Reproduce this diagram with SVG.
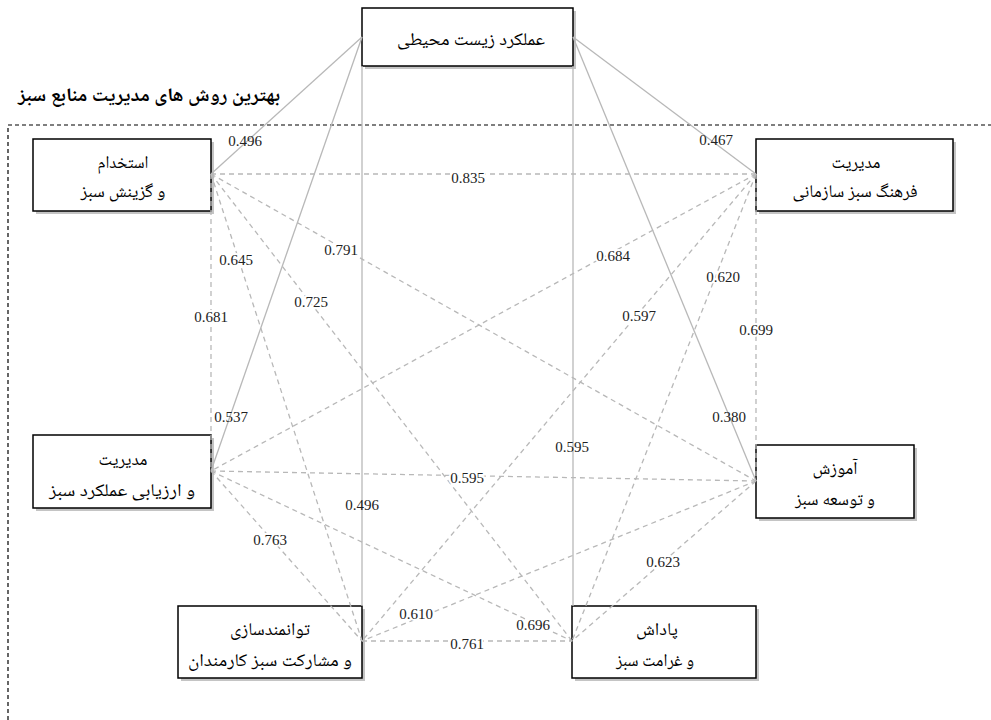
<svg xmlns="http://www.w3.org/2000/svg" width="991" height="720" viewBox="0 0 991 720">
<style>
.box{fill:#fff;stroke:#000;stroke-width:1.5}
.sh{fill:#c4c4c4}
.fa{font-family:"Noto Naskh Arabic","Liberation Serif","DejaVu Sans",serif;font-size:18px;fill:#000;text-anchor:middle}
.num{font-family:"Liberation Serif","Times New Roman",serif;font-size:15px;fill:#222;text-anchor:middle}
.halo{paint-order:stroke;stroke:#fff;stroke-width:4px;stroke-linejoin:round}
.sol{stroke:#b8b8b8;stroke-width:1.3;fill:none}
.das{stroke:#b8b8b8;stroke-width:1.3;fill:none;stroke-dasharray:5 4}
</style>
<rect width="991" height="720" fill="#fff"/>
<path d="M8,720 V125 H991" fill="none" stroke="#000" stroke-width="1.2" stroke-dasharray="4 3"/>
<text x="149" y="101" class="fa" style="font-weight:bold;font-size:19px" direction="rtl" textLength="262" lengthAdjust="spacingAndGlyphs">بهترین روش های مدیریت منابع سبز</text>

<g id="n-top"><rect x="365" y="11" width="211" height="58" class="sh"/><rect x="362" y="8" width="211" height="58" class="box"/><text x="471" y="45" class="fa" direction="rtl" textLength="148" lengthAdjust="spacingAndGlyphs">عملکرد زیست محیطی</text></g>
<g id="n-recruit"><rect x="36" y="142" width="178" height="72" class="sh"/><rect x="33" y="139" width="178" height="72" class="box"/><text x="123" y="168" class="fa" direction="rtl" textLength="51" lengthAdjust="spacingAndGlyphs">استخدام</text><text x="123" y="197" class="fa" direction="rtl" textLength="85" lengthAdjust="spacingAndGlyphs">و گزینش سبز</text></g>
<g id="n-culture"><rect x="759" y="142" width="197" height="72" class="sh"/><rect x="756" y="139" width="197" height="72" class="box"/><text x="856" y="168" class="fa" direction="rtl" textLength="49" lengthAdjust="spacingAndGlyphs">مدیریت</text><text x="855" y="197" class="fa" direction="rtl" textLength="125" lengthAdjust="spacingAndGlyphs">فرهنگ سبز سازمانی</text></g>
<g id="n-appraisal"><rect x="36" y="438" width="178" height="73" class="sh"/><rect x="33" y="435" width="178" height="73" class="box"/><text x="123" y="465" class="fa" direction="rtl" textLength="49" lengthAdjust="spacingAndGlyphs">مدیریت</text><text x="122" y="496" class="fa" direction="rtl" textLength="146" lengthAdjust="spacingAndGlyphs">و ارزیابی عملکرد سبز</text></g>
<g id="n-training"><rect x="759" y="448" width="158" height="73" class="sh"/><rect x="756" y="445" width="158" height="73" class="box"/><text x="835" y="474" class="fa" direction="rtl" textLength="45" lengthAdjust="spacingAndGlyphs">آموزش</text><text x="835" y="505" class="fa" direction="rtl" textLength="80" lengthAdjust="spacingAndGlyphs">و توسعه سبز</text></g>
<g id="n-empower"><rect x="181" y="609" width="184" height="72" class="sh"/><rect x="178" y="606" width="184" height="72" class="box"/><text x="270" y="635" class="fa" direction="rtl" textLength="80" lengthAdjust="spacingAndGlyphs">توانمندسازی</text><text x="270" y="666" class="fa" direction="rtl" textLength="164" lengthAdjust="spacingAndGlyphs">و مشارکت سبز کارمندان</text></g>
<g id="n-reward"><rect x="575" y="609" width="184" height="72" class="sh"/><rect x="572" y="606" width="184" height="72" class="box"/><text x="657" y="635" class="fa" direction="rtl" textLength="42" lengthAdjust="spacingAndGlyphs">پاداش</text><text x="655" y="666" class="fa" direction="rtl" textLength="78" lengthAdjust="spacingAndGlyphs">و غرامت سبز</text></g>

<g id="connectors">
<line x1="362" y1="37" x2="211" y2="174" class="sol"/>
<line x1="362" y1="37" x2="211" y2="471" class="sol"/>
<line x1="362" y1="66" x2="362" y2="606" class="sol"/>
<line x1="573" y1="66" x2="573" y2="606" class="sol"/>
<line x1="573" y1="37" x2="756" y2="174" class="sol"/>
<line x1="573" y1="37" x2="756" y2="481" class="sol"/>
<line x1="211" y1="174" x2="756" y2="174" class="das"/>
<line x1="211" y1="174" x2="211" y2="471" class="das"/>
<line x1="211" y1="174" x2="756" y2="481" class="das"/>
<line x1="211" y1="174" x2="362" y2="641" class="das"/>
<line x1="211" y1="174" x2="572" y2="641" class="das"/>
<line x1="756" y1="174" x2="211" y2="471" class="das"/>
<line x1="756" y1="174" x2="756" y2="481" class="das"/>
<line x1="756" y1="174" x2="362" y2="641" class="das"/>
<line x1="756" y1="174" x2="572" y2="641" class="das"/>
<line x1="211" y1="471" x2="756" y2="481" class="das"/>
<line x1="211" y1="471" x2="362" y2="641" class="das"/>
<line x1="211" y1="471" x2="572" y2="641" class="das"/>
<line x1="756" y1="481" x2="362" y2="641" class="das"/>
<line x1="756" y1="481" x2="572" y2="641" class="das"/>
<line x1="362" y1="641" x2="572" y2="641" class="das"/>
<g id="labels">
<text x="245" y="146" class="num">0.496</text>
<text x="716" y="145" class="num">0.467</text>
<text x="231" y="422" class="num">0.537</text>
<text x="729" y="422" class="num">0.380</text>
<text x="362" y="510" class="num">0.496</text>
<text x="572" y="452" class="num">0.595</text>
<text x="468" y="183" class="num halo">0.835</text>
<text x="211" y="322" class="num halo">0.681</text>
<text x="341" y="255" class="num halo">0.791</text>
<text x="236" y="265" class="num halo">0.645</text>
<text x="311" y="307" class="num halo">0.725</text>
<text x="613" y="261" class="num halo">0.684</text>
<text x="756" y="335" class="num halo">0.699</text>
<text x="639" y="321" class="num halo">0.597</text>
<text x="723" y="282" class="num halo">0.620</text>
<text x="467" y="483" class="num halo">0.595</text>
<text x="270" y="545" class="num halo">0.763</text>
<text x="533" y="630" class="num halo">0.696</text>
<text x="416" y="619" class="num halo">0.610</text>
<text x="663" y="567" class="num halo">0.623</text>
<text x="467" y="649" class="num halo">0.761</text>
</g>
</g>
</svg>
